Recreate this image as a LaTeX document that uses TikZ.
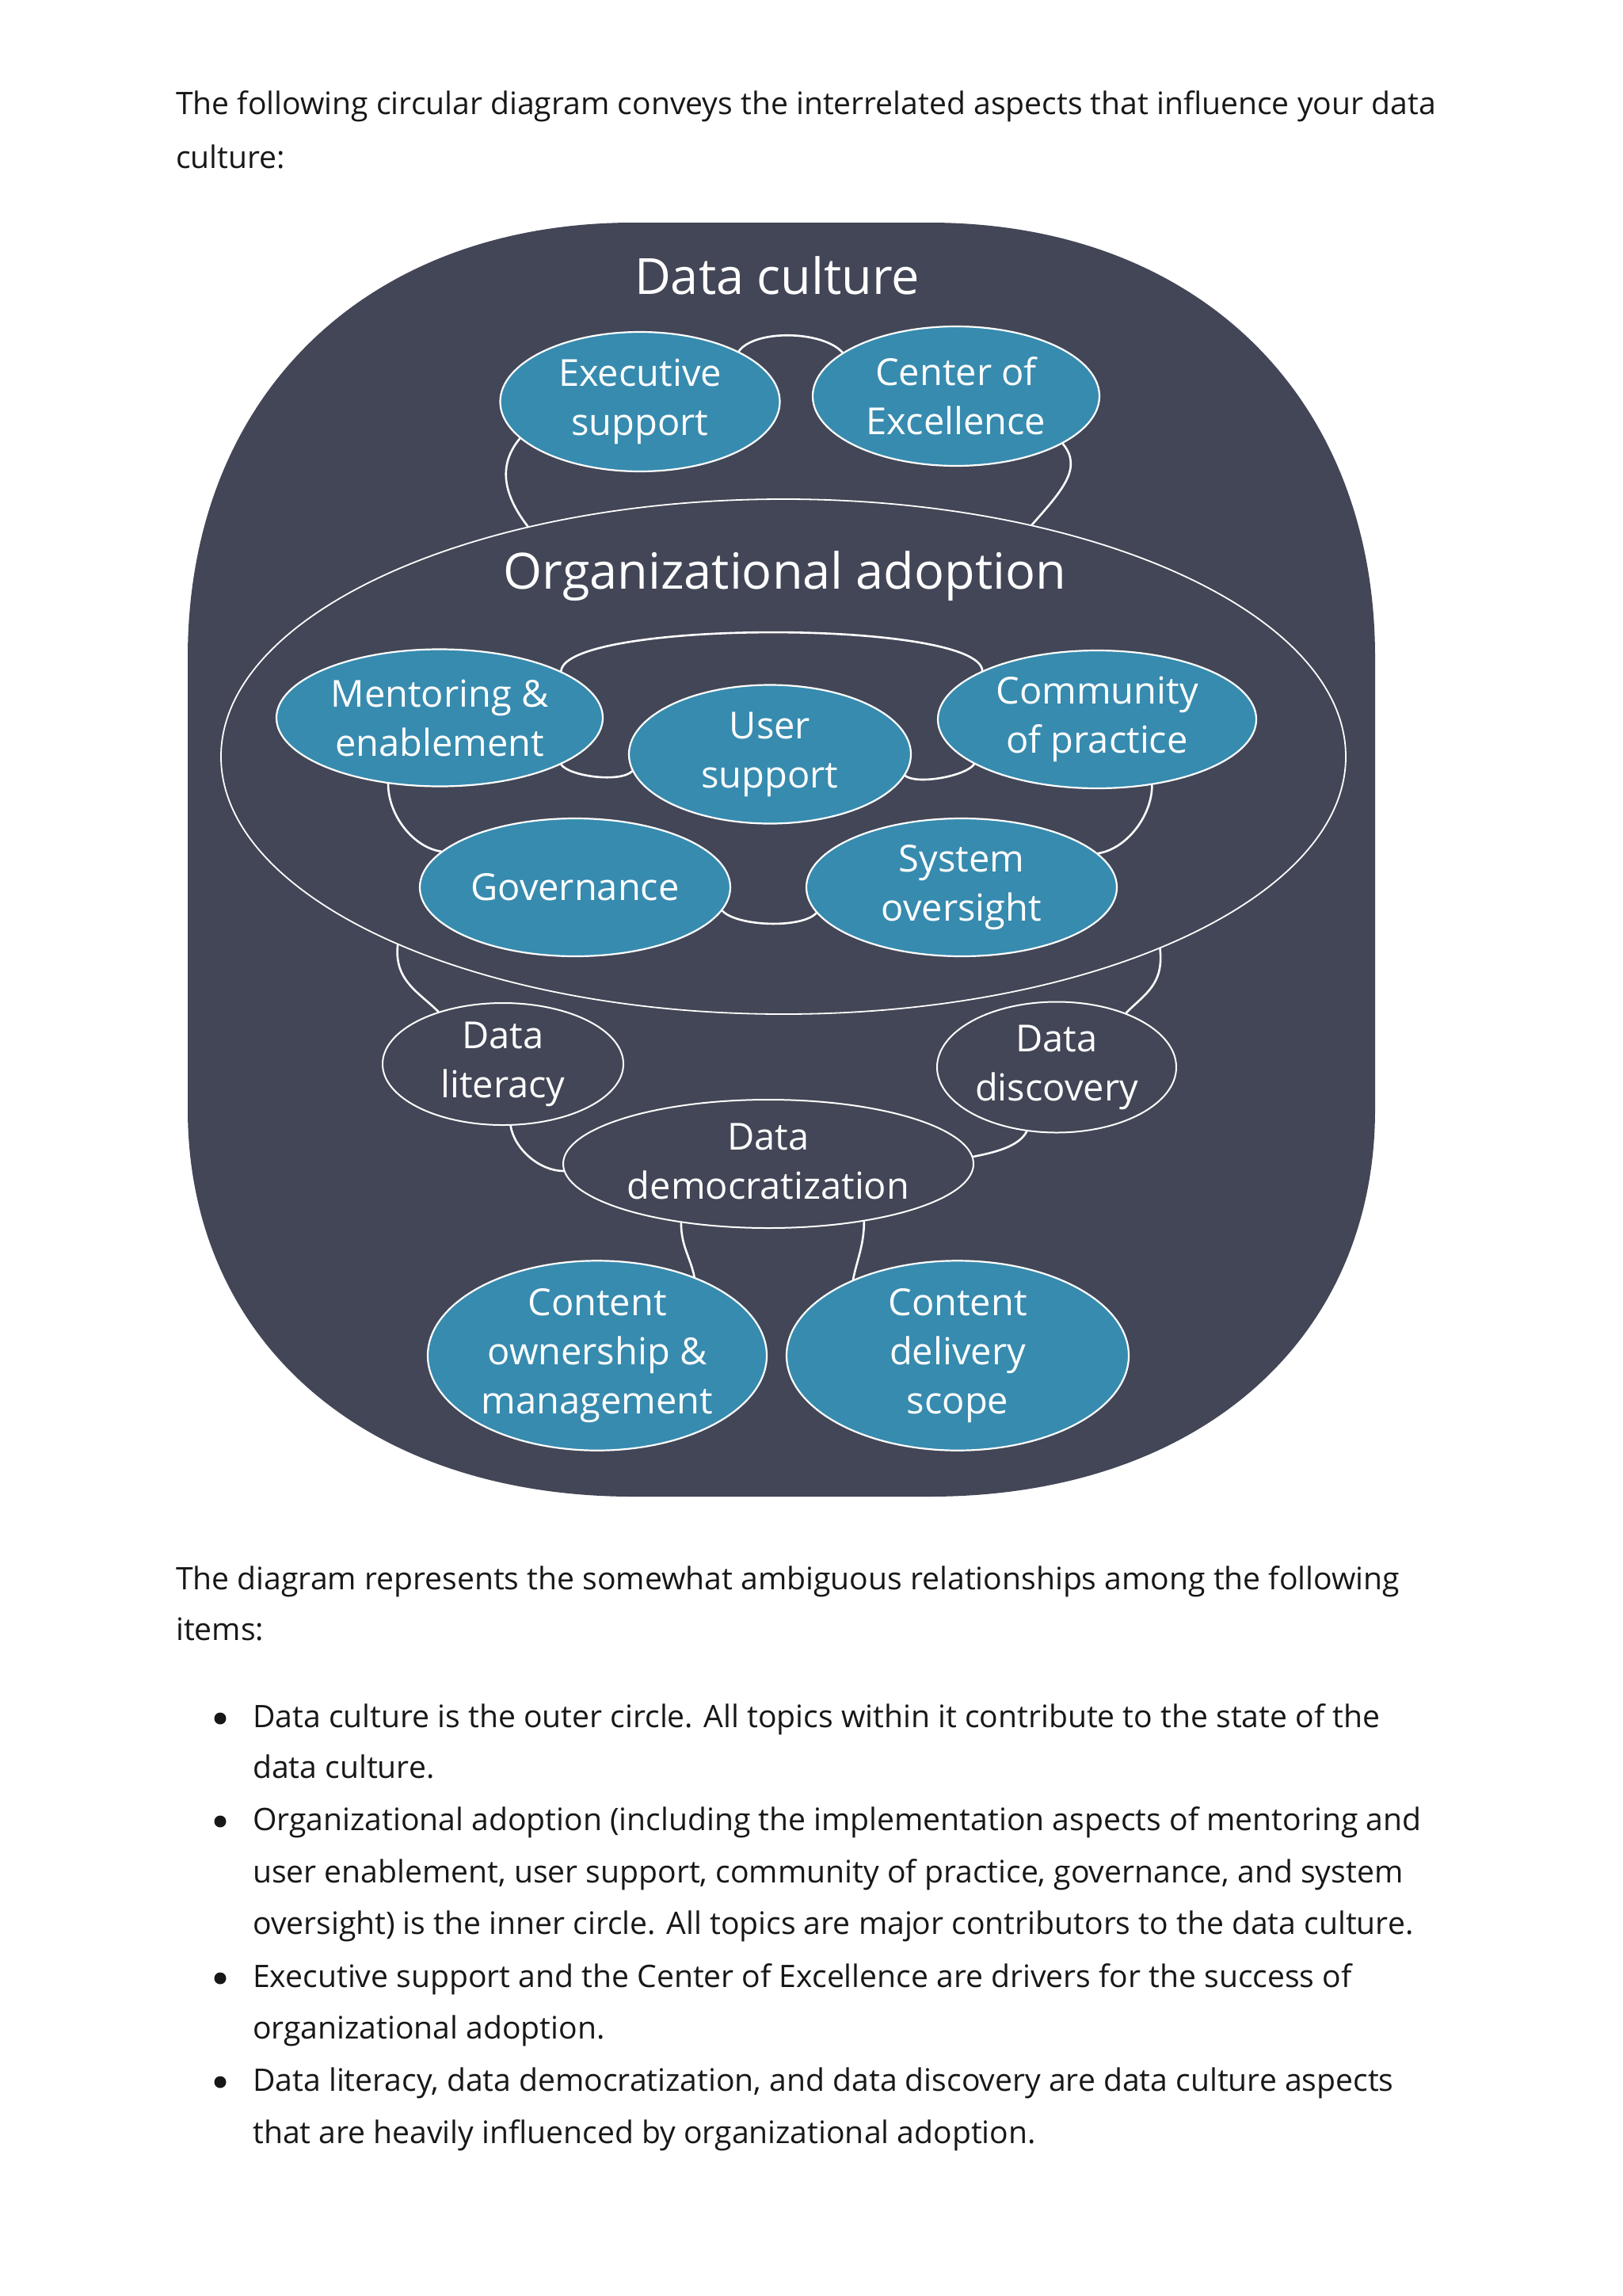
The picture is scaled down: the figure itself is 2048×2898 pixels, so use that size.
\documentclass[tikz,border=0pt]{standalone}
\usepackage{fontspec}
\setmainfont{Open Sans}
\usetikzlibrary{shapes.geometric}
\definecolor{darkbg}{RGB}{66,70,86}
\definecolor{tealc}{RGB}{55,139,175}
\definecolor{bodytext}{RGB}{23,23,23}
\begin{document}
\begin{tikzpicture}[x=1pt,y=-1pt,
  bubble/.style={ellipse, fill=tealc, draw=white, line width=2.2pt, inner sep=0pt, text=white, align=center, font=\fontsize{47}{62}\selectfont},
  ring/.style={ellipse, draw=white, line width=2pt, inner sep=0pt, text=white, align=center, font=\fontsize{47}{62}\selectfont},
  link/.style={draw=white, line width=2.6pt, line cap=round},
  heading/.style={anchor=base, text=white, font=\fontsize{63}{70}\selectfont, inner sep=0pt},
  bodyline/.style={anchor=base west, inner sep=0pt, text=bodytext, font=\fontsize{39.1}{65}\selectfont},
  bulletdot/.style={circle, fill=bodytext, minimum size=15pt, inner sep=0pt}
]
\useasboundingbox (0,0) rectangle (2048,2898);
\fill[white] (0,0) rectangle (2048,2898);

% outer data culture shape
\fill[darkbg] (237,830) .. controls (237,500) and (462,281) .. (800,281) -- (1173,281)
  .. controls (1511,281) and (1736,500) .. (1736,830) -- (1736,1400)
  .. controls (1736,1693) and (1511,1889) .. (1173,1889) -- (800,1889)
  .. controls (462,1889) and (237,1693) .. (237,1400) -- cycle;

\node[heading] (dctitle) at (981,371) {Data culture};
\node[heading] (oatitle) at (991,743) {Organizational adoption};

\node[bubble, minimum width=353, minimum height=176] (exec) at (808,507) {Executive\\support};
\node[bubble, minimum width=362, minimum height=176] (coe) at (1207,500) {Center of\\Excellence};
\node[ring, line width=1.8pt, minimum width=1420, minimum height=650] (org) at (989,955) {};
\node[bubble, minimum width=412, minimum height=173] (ment) at (555,906) {Mentoring \&\\enablement};
\node[bubble, minimum width=356, minimum height=175] (user) at (972,952) {User\\support};
\node[bubble, minimum width=402, minimum height=174] (comm) at (1385,908) {Community\\of practice};
\node[bubble, minimum width=392, minimum height=174] (gov) at (726,1120) {Governance};
\node[bubble, minimum width=392, minimum height=174] (sys) at (1214,1120) {System\\oversight};
\node[ring, minimum width=304, minimum height=154] (lit) at (635,1343) {Data\\literacy};
\node[ring, minimum width=302, minimum height=165] (disc) at (1334,1347) {Data\\discovery};
\node[ring, minimum width=518, minimum height=162] (dem) at (970,1469) {\raisebox{6pt}{Data}\\\raisebox{6pt}{democratization}};
\node[bubble, minimum width=428, minimum height=236] (own) at (754,1711) {Content\\ownership \&\\management};
\node[bubble, minimum width=432, minimum height=236] (deliv) at (1209,1711) {Content\\delivery\\scope};

% connectors
\draw[link] (exec.27) .. controls +(20,-28) and +(-25,-28) .. (coe.159);
\draw[link] (exec.197) .. controls +(-25,30) and +(-35,-45) .. (org.138);
\draw[link] (coe.336) .. controls +(25,30) and +(40,-45) .. (org.43);
\draw[link] (ment.21) .. controls +(5,-65) and +(-5,-65) .. (comm.157);
\draw[link] (ment.339) .. controls +(10,15) and +(-15,15) .. (user.187);
\draw[link] (user.351) .. controls +(15,12) and +(-10,15) .. (comm.200);
\draw[link] (ment.232) .. controls +(0,40) and +(-35,-5) .. (gov.165);
\draw[link] (comm.310) .. controls +(0,40) and +(35,-5) .. (sys.14);
\draw[link] (gov.351) .. controls +(18,20) and +(-18,20) .. (sys.190);
\draw[link] (org.206) .. controls +(-5,45) and +(-25,-25) .. (lit.141);
\draw[link] (org.333) .. controls +(5,45) and +(25,-25) .. (disc.38);
\draw[link] (lit.277) .. controls +(5,30) and +(-30,0) .. (dem.182);
\draw[link] (disc.245) .. controls +(-10,20) and +(25,-5) .. (dem.2);
\draw[link] (dem.214) .. controls +(0,30) and +(-5,-25) .. (own.39);
\draw[link] (dem.329) .. controls +(0,30) and +(5,-25) .. (deliv.144);

% body text
\node[bodyline] (t1) at (222,145) {The following circular diagram conveys the interrelated aspects that influence your data};
\node[bodyline] (t2) at (222,212) {culture:};
\node[bodyline] (t3) at (222,2006) {The diagram represents the somewhat ambiguous relationships among the following};
\node[bodyline] (t4) at (222,2070) {items:};

\node[bulletdot] (d1) at (278,2169) {};
\node[bodyline] (b1a) at (319,2180) {Data culture is the outer circle. All topics within it contribute to the state of the};
\node[bodyline] (b1b) at (319,2244) {data culture.};
\node[bulletdot] (d2) at (278,2299) {};
\node[bodyline] (b2a) at (319,2310) {Organizational adoption (including the implementation aspects of mentoring and};
\node[bodyline] (b2b) at (319,2376) {user enablement, user support, community of practice, governance, and system};
\node[bodyline] (b2c) at (319,2441) {oversight) is the inner circle. All topics are major contributors to the data culture.};
\node[bulletdot] (d3) at (278,2497) {};
\node[bodyline] (b3a) at (319,2508) {Executive support and the Center of Excellence are drivers for the success of};
\node[bodyline] (b3b) at (319,2573) {organizational adoption.};
\node[bulletdot] (d4) at (278,2628) {};
\node[bodyline] (b4a) at (319,2639) {Data literacy, data democratization, and data discovery are data culture aspects};
\node[bodyline] (b4b) at (319,2705) {that are heavily influenced by organizational adoption.};
\end{tikzpicture}
\end{document}
